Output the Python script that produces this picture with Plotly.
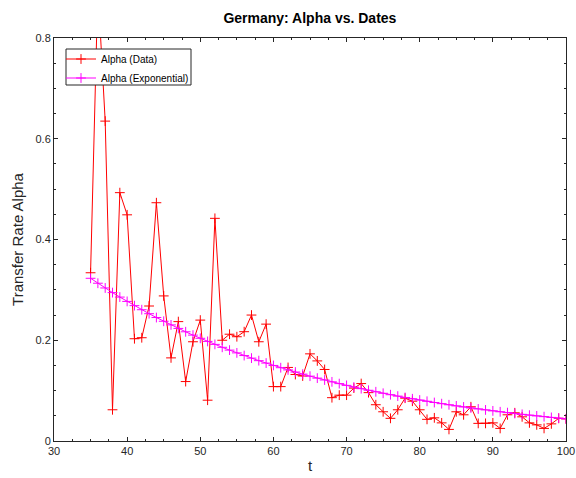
import plotly.graph_objects as go

# time index (days)
t = list(range(35, 101))

# estimated transfer rate per day
alpha_data = [
    0.334, 0.900, 0.635, 0.062, 0.493, 0.449, 0.203, 0.205, 0.268, 0.473,
    0.288, 0.165, 0.237, 0.118, 0.197, 0.240, 0.081, 0.442, 0.200, 0.212,
    0.207, 0.217, 0.250, 0.197, 0.232, 0.108, 0.108, 0.146, 0.132, 0.129,
    0.173, 0.159, 0.142, 0.086, 0.091, 0.091, 0.105, 0.114, 0.096, 0.072,
    0.058, 0.045, 0.062, 0.085, 0.079, 0.062, 0.043, 0.046, 0.036, 0.023,
    0.058, 0.052, 0.068, 0.035, 0.035, 0.036, 0.025, 0.052, 0.056, 0.048,
    0.036, 0.032, 0.025, 0.034, 0.045, 0.044,
]

# exponential fit values
alpha_exp = [
    0.3230, 0.3132, 0.3038, 0.2946, 0.2857, 0.2771, 0.2687, 0.2606, 0.2527, 0.2451,
    0.2377, 0.2305, 0.2235, 0.2168, 0.2102, 0.2039, 0.1977, 0.1918, 0.1860, 0.1804,
    0.1749, 0.1696, 0.1645, 0.1595, 0.1547, 0.1500, 0.1455, 0.1411, 0.1369, 0.1327,
    0.1287, 0.1248, 0.1211, 0.1174, 0.1139, 0.1104, 0.1071, 0.1039, 0.1007, 0.0977,
    0.0947, 0.0919, 0.0891, 0.0864, 0.0838, 0.0813, 0.0788, 0.0764, 0.0741, 0.0719,
    0.0697, 0.0676, 0.0656, 0.0636, 0.0617, 0.0598, 0.0580, 0.0563, 0.0546, 0.0529,
    0.0513, 0.0498, 0.0483, 0.0468, 0.0454, 0.0440,
]

x_ticks = [30, 40, 50, 60, 70, 80, 90, 100]
y_ticks = [0, 0.2, 0.4, 0.6, 0.8]
y_tick_labels = ["0", "0.2", "0.4", "0.6", "0.8"]

FONT = "Liberation Sans, Arial, Helvetica, sans-serif"
AXIS_COLOR = "#262626"

W, H = 576, 478
M_L, M_R, M_T, M_B = 54, 10, 38, 37
PLOT_W = W - M_L - M_R
PLOT_H = H - M_T - M_B


def px_x(p):
    return (p - M_L) / PLOT_W


def px_y(p):
    return (H - M_B - p) / PLOT_H


fig = go.Figure()
fig.add_trace(go.Scatter(
    x=t, y=alpha_data, name="Alpha (Data)", mode="lines+markers",
    line=dict(color="#ff0000", width=1),
    marker=dict(symbol="cross-thin", size=7, line=dict(color="#ff0000", width=1)),
))
fig.add_trace(go.Scatter(
    x=t, y=alpha_exp, name="Alpha (Exponential)", mode="lines+markers",
    line=dict(color="#ff00ff", width=1),
    marker=dict(symbol="cross-thin", size=7, line=dict(color="#ff00ff", width=1)),
))

axis_common = dict(
    showline=True, linecolor=AXIS_COLOR, linewidth=1, mirror="allticks",
    ticks="inside", ticklen=4, tickwidth=1, tickcolor=AXIS_COLOR,
    showgrid=False, zeroline=False, automargin=False,
    tickfont=dict(family=FONT, size=11, color=AXIS_COLOR),
)

# opaque legend frame, drawn above the data
fig.add_shape(
    type="rect", xref="paper", yref="paper", layer="above",
    x0=px_x(66), x1=px_x(191), y0=px_y(85), y1=px_y(49),
    fillcolor="white", line=dict(color=AXIS_COLOR, width=1),
)

fig.update_layout(
    width=W, height=H,
    margin=dict(l=M_L, r=M_R, t=M_T, b=M_B),
    paper_bgcolor="white", plot_bgcolor="white",
    font=dict(family=FONT, color=AXIS_COLOR),
    title=dict(text="<b>Germany: Alpha vs. Dates</b>", x=0.538, xanchor="center",
               y=0.962, yanchor="middle", automargin=False,
               font=dict(family=FONT, size=14, color="black")),
    xaxis=dict(range=[30, 100], tickvals=x_ticks,
               minor=dict(dtick=2.5, ticks="inside", ticklen=2, tickcolor=AXIS_COLOR),
               title=dict(text="t", font=dict(family=FONT, size=15, color=AXIS_COLOR),
                          standoff=4),
               **axis_common),
    yaxis=dict(range=[0, 0.8], tickvals=y_ticks, ticktext=y_tick_labels,
               minor=dict(dtick=0.05, ticks="inside", ticklen=2, tickcolor=AXIS_COLOR),
               title=dict(text="Transfer Rate Alpha",
                          font=dict(family=FONT, size=15, color=AXIS_COLOR),
                          standoff=8),
               **axis_common),
    legend=dict(x=px_x(61), y=px_y(44.5), xanchor="left", yanchor="top",
                bgcolor="rgba(0,0,0,0)", borderwidth=0,
                font=dict(family=FONT, size=10, color="black"),
                itemwidth=30, tracegroupgap=0),
    showlegend=True,
)

fig.write_html("out.html")
